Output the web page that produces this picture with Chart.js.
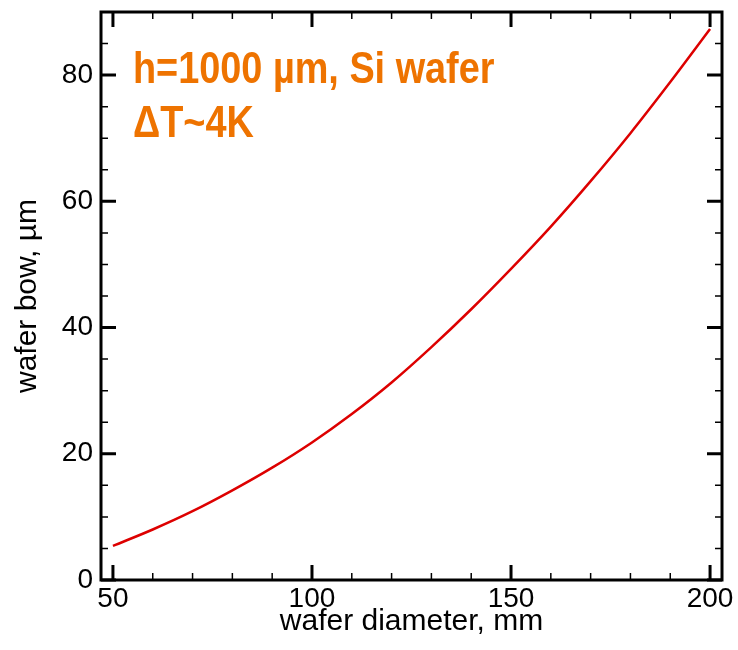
<!DOCTYPE html>
<html>
<head>
<meta charset="utf-8">
<script src="https://cdn.jsdelivr.net/npm/chart.js@4.4.1/dist/chart.umd.min.js"></script>
<style>
  html, body { margin: 0; padding: 0; background: #fff; }
  #wrap { width: 738px; height: 650px; }
</style>
</head>
<body>
<div id="wrap"><canvas id="bowChart" width="738" height="650"></canvas></div>
<script>
// wafer diameter (mm) and bow (um)
const diameters = [50, 60, 70, 80, 90, 100, 110, 120, 130, 140, 150, 160, 170, 180, 190, 200];
const bowValues = [5.4, 8.0, 10.9, 14.2, 17.8, 21.8, 26.3, 31.3, 36.9, 42.9, 49.3, 56.0, 63.2, 70.8, 78.9, 87.3];
const xTickValues = [50, 100, 150, 200];
const yTickValues = [0, 20, 40, 60, 80];
const noteLines = ['h=1000 \u00b5m, Si wafer', '\u0394T~4K'];

const FONT = 'Liberation Sans, Arial, sans-serif';

// inward ticks on all four sides + frame + note
const frameTicks = {
  id: 'frameTicks',
  afterDraw(chart) {
    const c = chart.ctx, a = chart.chartArea;
    const xs = chart.scales.x, ys = chart.scales.y;
    c.save();
    c.strokeStyle = '#000';
    for (let v = 50; v <= 200; v += 10) {
      const px = xs.getPixelForValue(v);
      const major = v % 50 === 0;
      c.lineWidth = major ? 3 : 1.5;
      const len = major ? 15 : 7;
      c.beginPath();
      c.moveTo(px, a.bottom); c.lineTo(px, a.bottom - len);
      c.moveTo(px, a.top); c.lineTo(px, a.top + len);
      c.stroke();
    }
    for (let v = 0; v <= 90; v += 5) {
      const py = ys.getPixelForValue(v);
      const major = v % 20 === 0;
      c.lineWidth = major ? 3 : 1.5;
      const len = major ? 15 : 7;
      c.beginPath();
      c.moveTo(a.left, py); c.lineTo(a.left + len, py);
      c.moveTo(a.right, py); c.lineTo(a.right - len, py);
      c.stroke();
    }
    c.lineWidth = 3;
    c.strokeRect(a.left, a.top, a.right - a.left, a.bottom - a.top);

    // annotation (condensed bold)
    c.fillStyle = '#EE7300';
    c.font = 'bold 44px ' + FONT;
    c.textBaseline = 'alphabetic';
    c.translate(133, 0);
    c.scale(0.86, 1);
    c.fillText(noteLines[0], 0, 83);
    c.fillText(noteLines[1], 0, 137);
    c.restore();
  }
};

const ctx = document.getElementById('bowChart').getContext('2d');
const bowChart = new Chart(ctx, {
  type: 'line',
  data: {
    datasets: [{
      data: diameters.map((d, i) => ({ x: d, y: bowValues[i] })),
      borderColor: '#DD0000',
      borderWidth: 2.5,
      pointRadius: 0,
      cubicInterpolationMode: 'monotone',
      fill: false
    }]
  },
  options: {
    responsive: false,
    animation: false,
    layout: { padding: { top: 12, right: 16, left: 0, bottom: 0 } },
    plugins: { legend: { display: false }, tooltip: { enabled: false } },
    scales: {
      x: {
        type: 'linear',
        min: 47,
        max: 203,
        afterBuildTicks: s => { s.ticks = xTickValues.map(v => ({ value: v })); },
        afterFit: s => { s.height = 70; s.paddingLeft = 0; s.paddingRight = 0; },
        grid: { display: false, drawTicks: false },
        border: { display: false },
        ticks: { color: '#000', font: { family: FONT, size: 28 }, padding: 2, maxRotation: 0 },
        title: { display: true, text: 'wafer diameter, mm', color: '#000',
                 font: { family: FONT, size: 30 }, padding: { top: 0, bottom: 10 } }
      },
      y: {
        min: 0,
        max: 90,
        afterBuildTicks: s => { s.ticks = yTickValues.map(v => ({ value: v })); },
        afterFit: s => { s.width = 101; s.paddingTop = 0; s.paddingBottom = 0; },
        grid: { display: false, drawTicks: false },
        border: { display: false },
        ticks: { color: '#000', font: { family: FONT, size: 28 }, padding: 8 },
        title: { display: true, text: 'wafer bow, \u00b5m', color: '#000',
                 font: { family: FONT, size: 30 }, padding: { top: 10, bottom: 0 } }
      }
    }
  },
  plugins: [frameTicks]
});
</script>
</body>
</html>
